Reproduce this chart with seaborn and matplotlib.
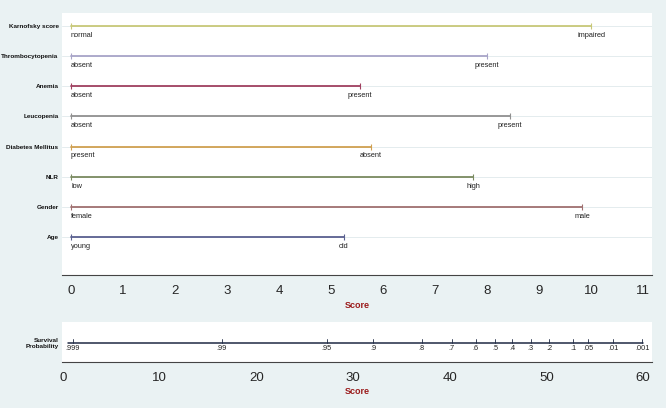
import pandas as pd
import matplotlib.pyplot as plt
import seaborn as sns

# Nomogram values
variables = ['Age', 'Gender', 'NLR', 'Diabetes Mellitus', 'Leucopenia',
             'Anemia', 'Thrombocytopenia', 'Karnofsky score']
max_points = [5.25, 9.83, 7.73, 5.76, 8.44, 5.56, 8.0, 10.0]
low_labels = ['young', 'female', 'low', 'present', 'absent', 'absent', 'absent', 'normal']
high_labels = ['old', 'male', 'high', 'absent', 'present', 'present', 'present', 'impaired']
colors = ['#5A6090', '#A07070', '#7A8A60', '#D0A050', '#909090', '#A04060', '#A8A4C8', '#C8C878']

surv_labels = ['.999', '.99', '.95', '.9', '.8', '.7', '.6', '.5', '.4', '.3', '.2',
               '.1', '.05', '.01', '.001']
surv_score = [1.0, 16.4, 27.3, 32.1, 37.1, 40.2, 42.7, 44.7, 46.5, 48.4, 50.3,
              52.8, 54.3, 56.9, 59.9]

# long-form table for seaborn
rows = []
for i, (v, m) in enumerate(zip(variables, max_points)):
    rows.append({'variable': v, 'score': 0.0, 'row': i})
    rows.append({'variable': v, 'score': m, 'row': i})
df = pd.DataFrame(rows)

sns.set_style('white')
plt.rcParams['font.family'] = ['Liberation Sans', 'DejaVu Sans']

bg = '#EAF2F3'
lab_font = dict(fontsize=4.6, fontweight='bold', color='#111111')
fig = plt.figure(figsize=(6.66, 4.08), dpi=100, facecolor=bg)

# ---- top panel: points per predictor
ax = fig.add_axes([62 / 666, 1 - 275 / 408, 590 / 666, 262 / 408])
ax.set_facecolor('white')
sns.lineplot(data=df, x='score', y='row', hue='variable', hue_order=variables,
             palette=colors, estimator=None, legend=False, linewidth=1.3, ax=ax)
for i in range(len(variables)):
    ax.plot([0, max_points[i]], [i, i], ls='none', marker='|', ms=4,
            mew=0.8, color=colors[i])
    ax.text(0, i - 0.31, low_labels[i], ha='left', va='center', fontsize=5.3, color='#222222')
    ax.text(max_points[i], i - 0.31, high_labels[i], ha='center', va='center',
            fontsize=5.3, color='#222222')

ax.set_xlim(-9 / 52, 11 + 9 / 52)
ax.set_ylim(-38 / 30.14, 7 + 13 / 30.14)
ax.set_yticks(range(len(variables)), labels=variables, **lab_font)
ax.tick_params(axis='y', length=0, pad=2.5)
ax.grid(axis='y', color='#E4ECEE', linewidth=0.7)
ax.set_axisbelow(True)
ax.set_xticks(range(12))
ax.set_xticks([x + 0.5 for x in range(11)], minor=True)
ax.tick_params(axis='x', which='both', length=4, width=0.8, color='#444444',
               labelsize=9.5, pad=3, direction='out')
for s in ['top', 'right', 'left']:
    ax.spines[s].set_visible(False)
ax.spines['bottom'].set_color('#444444')
ax.spines['bottom'].set_linewidth(0.8)
ax.set_xlabel('Score', fontsize=6.5, fontweight='bold', color='#9B1B1B', labelpad=3)
ax.set_ylabel('')

# ---- bottom panel: survival probability
ax2 = fig.add_axes([62 / 666, 1 - 362 / 408, 590 / 666, 40 / 408])
ax2.set_facecolor('white')
surv = pd.DataFrame({'score': [surv_score[0] - 0.5, 60.0], 'y': [0.475, 0.475]})
sns.lineplot(data=surv, x='score', y='y', color='#1F2A44', linewidth=1.1,
             estimator=None, ax=ax2)
for sc, lab in zip(surv_score, surv_labels):
    ax2.plot([sc, sc], [0.475, 0.58], color='#1F2A44', linewidth=0.6)
    ax2.text(sc, 0.33, lab, ha='center', va='center', fontsize=5.3, color='#222222')
ax2.set_xlim(-0.1, 60.93)
ax2.set_ylim(0, 1)
ax2.set_yticks([0.475], labels=['Survival\nProbability'], **lab_font)
for lab in ax2.get_yticklabels():
    lab.set_multialignment('right')
ax2.tick_params(axis='y', length=0, pad=2.5)
ax2.set_xticks(range(0, 61, 10))
ax2.set_xticks(range(5, 60, 10), minor=True)
ax2.tick_params(axis='x', which='both', length=4, width=0.8, color='#444444',
                labelsize=9.5, pad=3)
for s in ['top', 'right', 'left']:
    ax2.spines[s].set_visible(False)
ax2.spines['bottom'].set_color('#444444')
ax2.spines['bottom'].set_linewidth(0.8)
ax2.set_xlabel('Score', fontsize=6.5, fontweight='bold', color='#9B1B1B', labelpad=2)
ax2.set_ylabel('')

fig.savefig('out.png', dpi=100, facecolor=bg)
